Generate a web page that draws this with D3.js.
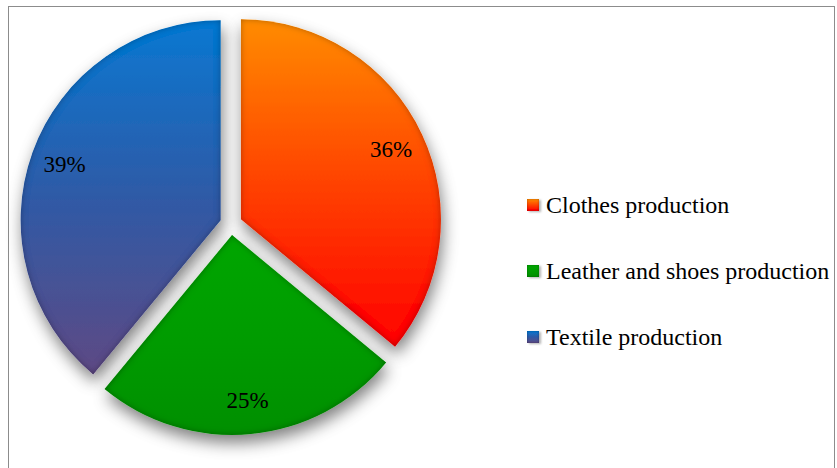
<!DOCTYPE html>
<html>
<head>
<meta charset="utf-8">
<script src="https://cdn.jsdelivr.net/npm/d3@7"></script>
<style>
  body { margin: 0; background: #fff; }
  svg { display: block; }
</style>
</head>
<body>
<div id="chart"></div>
<script>
// Data
const categories = ["Clothes production", "Leather and shoes production", "Textile production"];
const shares = [36, 25, 39];
const labels = ["36%", "25%", "39%"];

// gradient stops per slice (top -> bottom)
const sliceColors = [
  ["#ff8c00", "#ff4200", "#ff0000"],
  ["#03a603", "#019c01", "#008f00"],
  ["#0a78d2", "#2f5aa6", "#5e4a84"]
];

const width = 837, height = 468;
const cx = 231, cy = 224, radius = 200, explode = 11;
const serif = '"Liberation Serif"';

const svg = d3.select("#chart").append("svg")
  .attr("width", width)
  .attr("height", height);

const defs = svg.append("defs");

sliceColors.forEach((c, i) => {
  const g = defs.append("linearGradient")
    .attr("id", "grad" + i)
    .attr("x1", 0).attr("y1", 0).attr("x2", 0).attr("y2", 1);
  g.append("stop").attr("offset", "0%").attr("stop-color", c[0]);
  g.append("stop").attr("offset", "50%").attr("stop-color", c[1]);
  g.append("stop").attr("offset", "100%").attr("stop-color", c[2]);
});

// bevel + drop shadow filter
function makeFilter(id, blurIn, shadowBlur, dy, opacity) {
  const f = defs.append("filter")
    .attr("id", id)
    .attr("x", "-20%").attr("y", "-20%")
    .attr("width", "150%").attr("height", "150%");
  f.append("feGaussianBlur").attr("in", "SourceAlpha").attr("stdDeviation", blurIn).attr("result", "ib");
  f.append("feComposite").attr("in", "SourceAlpha").attr("in2", "ib")
    .attr("operator", "arithmetic").attr("k2", 1).attr("k3", -1).attr("result", "edge");
  f.append("feFlood").attr("flood-color", "#000").attr("flood-opacity", 0.6).attr("result", "dark");
  f.append("feComposite").attr("in", "dark").attr("in2", "edge").attr("operator", "in").attr("result", "inner");
  f.append("feGaussianBlur").attr("in", "SourceAlpha").attr("stdDeviation", shadowBlur).attr("result", "sb");
  f.append("feOffset").attr("in", "sb").attr("dx", 2).attr("dy", dy).attr("result", "so");
  f.append("feFlood").attr("flood-color", "#000").attr("flood-opacity", opacity).attr("result", "sc");
  f.append("feComposite").attr("in", "sc").attr("in2", "so").attr("operator", "in").attr("result", "shadow");
  const m = f.append("feMerge");
  m.append("feMergeNode").attr("in", "shadow");
  m.append("feMergeNode").attr("in", "SourceGraphic");
  m.append("feMergeNode").attr("in", "inner");
}
makeFilter("slice", 3, 8, 8, 0.5);
makeFilter("swatch", 1.2, 0.8, 1, 0.3);

// frame
svg.append("rect")
  .attr("x", 8.5).attr("y", 6.5)
  .attr("width", 826).attr("height", 470)
  .attr("fill", "none")
  .attr("stroke", "#8c8c8c")
  .attr("stroke-width", 1);

const pie = d3.pie().sort(null).value(d => d);
const arcs = pie(shares);
const arc = d3.arc().innerRadius(0).outerRadius(radius);
const labelArc = d3.arc().innerRadius(radius * 0.83).outerRadius(radius * 0.83);

const g = svg.append("g").attr("transform", `translate(${cx},${cy})`);

const slices = g.selectAll("g.slice")
  .data(arcs)
  .join("g")
  .attr("class", "slice")
  .attr("transform", d => {
    const a = (d.startAngle + d.endAngle) / 2;
    return `translate(${Math.sin(a) * explode},${-Math.cos(a) * explode})`;
  });

slices.append("path")
  .attr("d", arc)
  .attr("fill", (d, i) => `url(#grad${i})`)
  .attr("filter", "url(#slice)");

slices.append("text")
  .attr("transform", d => `translate(${labelArc.centroid(d)})`)
  .attr("text-anchor", "middle")
  .attr("dy", "0.35em")
  .style("font-family", serif)
  .style("font-size", "23px")
  .attr("fill", "#000")
  .text((d, i) => labels[i]);

// legend
const legend = svg.append("g").attr("transform", "translate(527,205)");
categories.forEach((name, i) => {
  const row = legend.append("g").attr("transform", `translate(0,${i * 66})`);
  row.append("rect")
    .attr("x", 0).attr("y", -6)
    .attr("width", 12).attr("height", 12)
    .attr("fill", `url(#grad${i})`)
    .attr("filter", "url(#swatch)");
  row.append("text")
    .attr("x", 19).attr("y", 0)
    .attr("dy", "0.33em")
    .style("font-family", serif)
    .style("font-size", "24px")
    .attr("fill", "#000")
    .text(name);
});
</script>
</body>
</html>
